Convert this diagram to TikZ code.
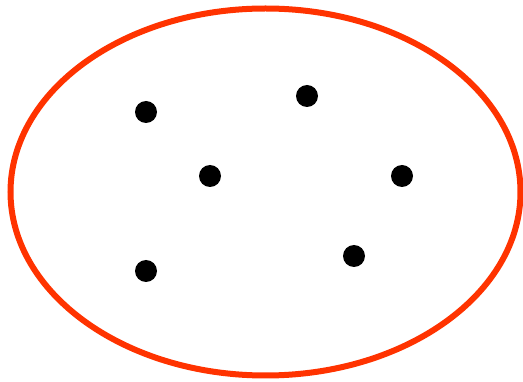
\documentclass[tikz,border=0pt]{standalone}
\definecolor{ringred}{HTML}{FF3300}
\begin{document}
\begin{tikzpicture}[x=1pt,y=-1pt,
  dot/.style={circle,fill=black,inner sep=0pt,minimum size=22pt},
  ring/.style={draw=ringred,line width=6pt}]
\useasboundingbox (0,0) rectangle (523,382);
\draw[ring] (265.5,192) ellipse [x radius=255, y radius=183.5];
\node[dot] (d1) at (146,112) {};
\node[dot] (d2) at (307,96) {};
\node[dot] (d3) at (210,176) {};
\node[dot] (d4) at (402,176) {};
\node[dot] (d5) at (146,271) {};
\node[dot] (d6) at (354,256) {};
\end{tikzpicture}
\end{document}
